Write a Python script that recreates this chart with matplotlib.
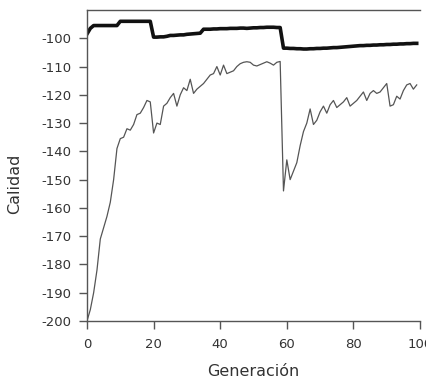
import matplotlib
matplotlib.use("Agg")
import matplotlib.pyplot as plt
import numpy as np

# Generation index
generacion = np.arange(100)

# Best quality per generation (thick line)
mejor = [
    -98.5, -96.5, -95.5, -95.5, -95.5, -95.5, -95.5, -95.5, -95.5, -95.5,
    -94.0, -94.0, -94.0, -94.0, -94.0, -94.0, -94.0, -94.0, -94.0, -94.0,
    -99.6, -99.6, -99.5, -99.5, -99.3, -99.0, -99.0, -98.9, -98.8, -98.8,
    -98.6, -98.5, -98.4, -98.3, -98.2, -96.8, -96.8, -96.8, -96.7, -96.7,
    -96.6, -96.6, -96.6, -96.5, -96.5, -96.5, -96.4, -96.4, -96.5, -96.4,
    -96.3, -96.3, -96.2, -96.2, -96.1, -96.1, -96.1, -96.2, -96.2, -103.5,
    -103.5, -103.6, -103.6, -103.7, -103.7, -103.8, -103.8, -103.7, -103.7, -103.6,
    -103.6, -103.5, -103.5, -103.4, -103.3, -103.3, -103.2, -103.1, -103.0, -102.9,
    -102.8, -102.7, -102.6, -102.6, -102.5, -102.5, -102.4, -102.4, -102.3, -102.3,
    -102.2, -102.2, -102.1, -102.1, -102.0, -102.0, -101.9, -101.9, -101.8, -101.8,
]

# Average quality per generation (thin line)
media = [
    -200.0, -196.0, -190.0, -182.0, -171.0, -167.0, -163.0, -158.0, -150.0, -139.0,
    -135.5, -135.0, -132.0, -132.5, -130.5, -127.0, -126.5, -124.5, -122.0, -122.5,
    -133.5, -130.0, -130.5, -124.0, -123.0, -121.0, -119.5, -124.0, -120.0, -117.5,
    -118.5, -114.5, -119.5, -118.0, -117.0, -116.0, -114.5, -113.0, -112.5, -110.0,
    -113.0, -109.5, -112.5, -112.0, -111.5, -110.0, -109.0, -108.5, -108.3, -108.5,
    -109.5, -109.8, -109.3, -108.8, -108.3, -108.8, -109.5, -108.5, -108.2, -154.0,
    -143.0, -150.0, -147.0, -144.0, -138.0, -133.0, -130.0, -125.0, -130.5, -129.0,
    -126.0, -124.0, -126.5, -123.5, -122.0, -124.5, -123.5, -122.5, -121.0, -124.0,
    -123.0, -122.0, -120.5, -119.0, -122.0, -119.5, -118.5, -119.5, -119.0, -117.5,
    -116.0, -124.0, -123.5, -120.5, -121.5, -118.5, -116.5, -116.0, -118.0, -116.5,
]

xticks = [0, 20, 40, 60, 80, 100]
yticks = list(range(-200, -99, 10))

fig = plt.figure(figsize=(4.27, 3.83), dpi=100)
ax = fig.add_axes([0.2037, 0.1619, 0.78, 0.812])

ax.plot(generacion, media, color="#555555", linewidth=0.9)
ax.plot(generacion, mejor, color="#111111", linewidth=2.6)

ax.set_xlim(0, 100)
ax.set_ylim(-200, -90)
ax.set_xticks(xticks)
ax.set_yticks(yticks)
ax.set_xticklabels([str(v) for v in xticks])
ax.set_yticklabels([str(v) for v in yticks])

ax.spines["right"].set_visible(False)
for side in ("left", "bottom", "top"):
    ax.spines[side].set_color("#555555")
    ax.spines[side].set_linewidth(1.0)

ax.tick_params(axis="both", direction="out", length=5.5, width=1.0,
               color="#555555", labelsize=9.5, labelcolor="#333333")
ax.tick_params(axis="y", pad=5.5)
ax.tick_params(axis="x", pad=7)

ax.set_xlabel("Generación", fontsize=11.5, color="#333333", labelpad=9)
ax.set_ylabel("Calidad", fontsize=11.5, color="#333333")
ax.yaxis.set_label_coords(-0.195, 0.44)

fig.savefig("out.png", dpi=100)
